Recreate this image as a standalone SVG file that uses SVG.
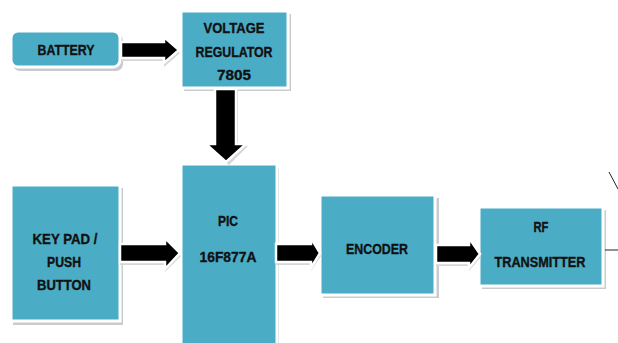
<svg xmlns="http://www.w3.org/2000/svg" width="618" height="343" viewBox="0 0 618 343">
<style>
.bx{fill:#4BACC6;stroke:#ffffff;stroke-width:3}
.sh{fill:#c9ccce}
.t{font-family:"Liberation Sans",Arial,sans-serif;font-weight:bold;font-size:15px;fill:#111;stroke:#111;stroke-width:0.35;text-anchor:middle}
.ar{fill:#000;stroke:#ffffff;stroke-width:2.5;stroke-linejoin:miter}
.as{fill:#d6d6d6}
.ln{stroke:#222;stroke-width:1;fill:none}
</style>
<rect width="618" height="343" fill="#ffffff"/>
<g id="battery">
<rect class="sh" x="13" y="34" width="110" height="37" rx="7"/>
<rect class="bx" x="11" y="31" width="109" height="36" rx="7"/>
<text class="t" x="66" y="55" textLength="57" lengthAdjust="spacingAndGlyphs">BATTERY</text>
</g>
<g id="regulator">
<rect class="sh" x="184" y="14" width="107" height="77"/>
<rect class="bx" x="181" y="11" width="107" height="77"/>
<text class="t" x="234" y="33" textLength="61" lengthAdjust="spacingAndGlyphs">VOLTAGE</text>
<text class="t" x="234" y="57" textLength="77" lengthAdjust="spacingAndGlyphs">REGULATOR</text>
<text class="t" x="234" y="80" textLength="34" lengthAdjust="spacingAndGlyphs">7805</text>
</g>
<g id="keypad">
<rect class="sh" x="13" y="188" width="110" height="137"/>
<rect class="bx" x="11" y="185" width="109" height="136"/>
<text class="t" x="65" y="244" textLength="65" lengthAdjust="spacingAndGlyphs">KEY PAD /</text>
<text class="t" x="64" y="267" textLength="34" lengthAdjust="spacingAndGlyphs">PUSH</text>
<text class="t" x="64" y="290" textLength="54" lengthAdjust="spacingAndGlyphs">BUTTON</text>
</g>
<g id="pic">
<rect class="sh" x="184" y="168" width="95" height="180"/>
<rect class="bx" x="181" y="164" width="96" height="183"/>
<text class="t" x="228" y="226" textLength="20" lengthAdjust="spacingAndGlyphs">PIC</text>
<text class="t" x="228" y="262" textLength="57" lengthAdjust="spacingAndGlyphs">16F877A</text>
</g>
<g id="encoder">
<rect class="sh" x="323" y="198" width="116" height="100"/>
<rect class="bx" x="320" y="195" width="115" height="100"/>
<text class="t" x="377" y="254" textLength="62" lengthAdjust="spacingAndGlyphs">ENCODER</text>
</g>
<g id="rf">
<rect class="sh" x="482" y="210" width="124" height="79"/>
<rect class="bx" x="479" y="207" width="124" height="79"/>
<text class="t" x="541" y="232" textLength="15" lengthAdjust="spacingAndGlyphs">RF</text>
<text class="t" x="540" y="267" textLength="91" lengthAdjust="spacingAndGlyphs">TRANSMITTER</text>
</g>
<g id="connectors">
<polygon class="as" points="121,45 164,45 164,40 180,53 164,67 164,61 121,61"/>
<polygon class="ar" points="121,42 164,42 164,37 179,50 164,63 164,58 121,58"/>
<polygon class="as" points="218,91 238,91 238,146 248,146 229,165 208,146 218,146"/>
<polygon class="ar" points="215,89 236,89 236,144 246,144 226,162 206,144 215,144"/>
<polygon class="as" points="120,247 165,247 165,241 181,256 165,272 165,265 120,265"/>
<polygon class="ar" points="120,244 165,244 165,238 180,253 165,269 165,262 120,262"/>
<polygon class="as" points="276,247 311,247 311,241 321,256 311,271 311,265 276,265"/>
<polygon class="ar" points="276,244 311,244 311,238 320,253 311,268 311,262 276,262"/>
<polygon class="as" points="436,248 469,248 469,241 481,257 469,271 469,266 436,266"/>
<polygon class="ar" points="436,245 469,245 469,238 480,254 469,268 469,263 436,263"/>
<line class="ln" x1="605" y1="250" x2="618" y2="250"/>
<line class="ln" x1="609" y1="172" x2="618" y2="189"/>
</g>
</svg>
